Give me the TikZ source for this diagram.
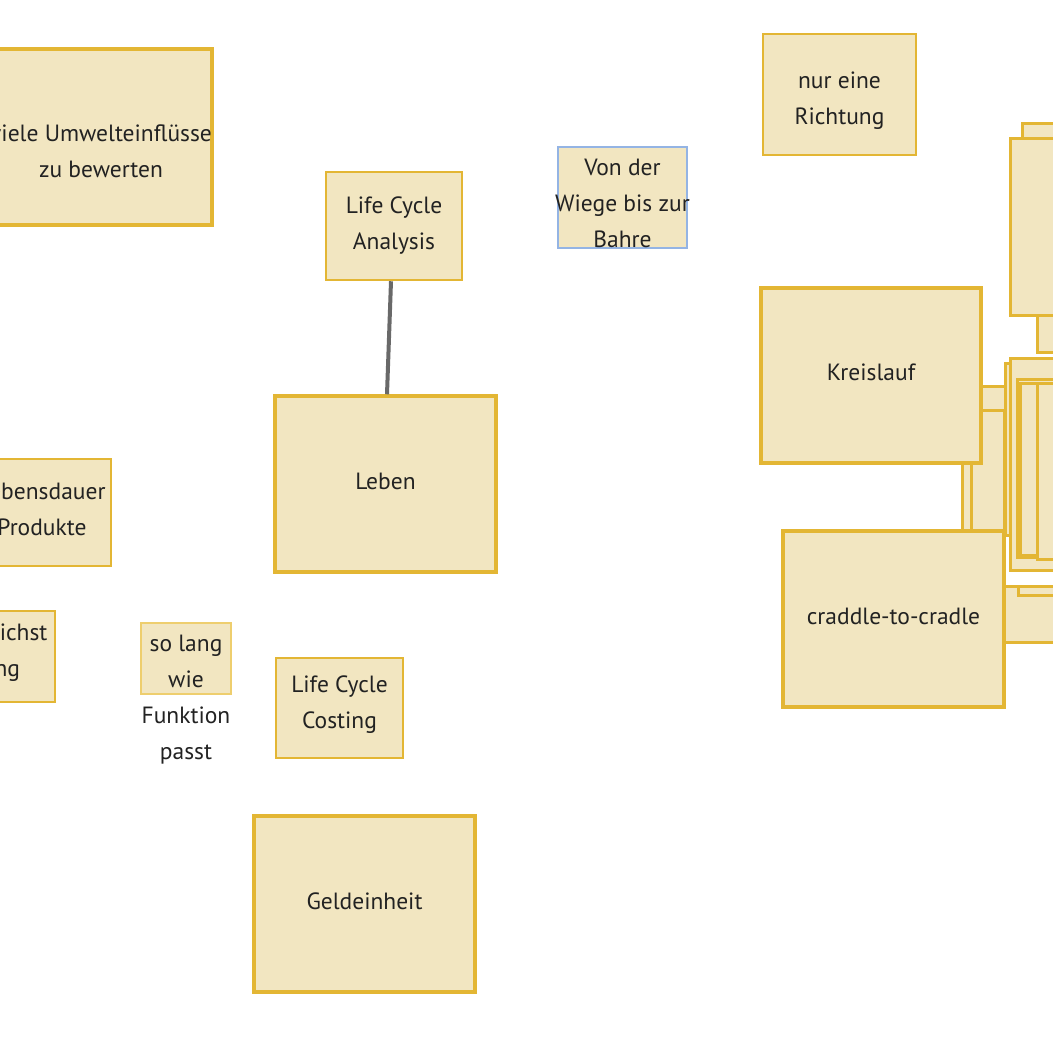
\documentclass[tikz,border=0pt]{standalone}
\usepackage{fontspec}
\setmainfont{PT Sans}
\definecolor{boxfill}{RGB}{242,230,193}
\definecolor{boxline}{RGB}{227,182,52}
\definecolor{lightline}{RGB}{238,206,110}
\definecolor{blueline}{RGB}{148,180,228}
\definecolor{txt}{RGB}{34,34,34}
\definecolor{conn}{RGB}{105,105,105}
\tikzset{
  box/.style={rectangle, draw=boxline, fill=boxfill, line width=2.5pt, inner sep=0pt},
  bigbox/.style={box, line width=3.5pt},
  thinbox/.style={box, line width=2pt},
  label/.style={inner sep=0pt, align=center, text=txt, font=\fontsize{23.5}{36}\selectfont},
  bgbox/.style={draw=boxline, fill=boxfill, line width=3pt},
  connector/.style={draw=conn, line width=4pt}
}
\begin{document}
\begin{tikzpicture}[x=1pt,y=-1pt]
\useasboundingbox (0,0) rectangle (1053,1050);
\clip (0,0) rectangle (1053,1050);
\fill[white] (0,0) rectangle (1053,1050);

% right cluster (back to front)
\draw[bgbox] (1022,123) rectangle (1090,220);
\draw[bgbox] (1037,220) rectangle (1090,352);
\draw[bgbox] (1010,138) rectangle (1090,315);
\draw[bgbox] (962,400) rectangle (1004,620);
\draw[bgbox] (971,410) rectangle (1004,620);
\draw[bgbox] (950,386) rectangle (1005,410);
\draw[bgbox] (990,586) rectangle (1090,642);
\draw[bgbox] (1018,586) rectangle (1090,595);
\draw[bgbox] (1005,363) rectangle (1040,535);
\draw[bgbox] (1010,358) rectangle (1090,570);
\draw[bgbox] (1017,379) rectangle (1090,557);
\draw[bgbox] (1020,383) rectangle (1090,555);
\draw[bgbox] (1037,383) rectangle (1090,559);

% boxes
\node[bigbox, minimum width=222, minimum height=176] (viele) at (101,137) {};
\node[box, minimum width=136, minimum height=108] (lca) at (394,226) {};
\node[box, draw=blueline, line width=2pt, minimum width=129, minimum height=101] (wiege) at (622.5,197.5) {};
\node[box, minimum width=153, minimum height=121] (nur) at (839.5,94.5) {};
\node[bigbox, minimum width=220, minimum height=175] (kreis) at (871,375.5) {};
\node[bigbox, minimum width=221, minimum height=176] (leben) at (385.5,484) {};
\node[box, minimum width=134, minimum height=107] (dauer) at (44,512.5) {};
\node[box, minimum width=104, minimum height=91] (moegl) at (3,656.5) {};
\node[thinbox, draw=lightline, minimum width=90, minimum height=71] (solang) at (186,658.5) {};
\node[box, line width=2pt, minimum width=127, minimum height=100] (lcc) at (339.5,708) {};
\node[bigbox, minimum width=221, minimum height=176] (geld) at (364.5,904) {};
\node[bigbox, minimum width=221, minimum height=176] (cradle) at (893.5,619) {};

% texts
\node[label] (vieletext) at (101,151) {viele Umwelteinflüsse\\zu bewerten};
\node[label] (lcatext) at (lca.center) {Life Cycle\\Analysis};
\node[label] (wiegetext) at ([yshift=-6pt]wiege.center) {Von der\\Wiege bis zur\\Bahre};
\node[label] (nurtext) at ([yshift=-6pt]nur.center) {nur eine\\Richtung};
\node[label] (kreistext) at ([yshift=3pt]kreis.center) {Kreislauf};
\node[label] (lebentext) at ([yshift=3pt]leben.center) {Leben};
\node[label] (dauertext) at ([xshift=-2pt,yshift=3pt]dauer.center) {Lebensdauer\\Produkte};
\node[label] (moegltext) at ([xshift=-5pt,yshift=4pt]moegl.center) {möglichst\\lang};
\node[label] (solangtext) at (186,700) {so lang\\wie\\Funktion\\passt};
\node[label] (lcctext) at ([yshift=3pt]lcc.center) {Life Cycle\\Costing};
\node[label] (geldtext) at ([yshift=3pt]geld.center) {Geldeinheit};
\node[label] (cradletext) at ([yshift=3pt]cradle.center) {craddle-to-cradle};

% connector
\draw[connector] ([xshift=-3pt]lca.south) -- ([xshift=1.5pt]leben.north);
\end{tikzpicture}
\end{document}
